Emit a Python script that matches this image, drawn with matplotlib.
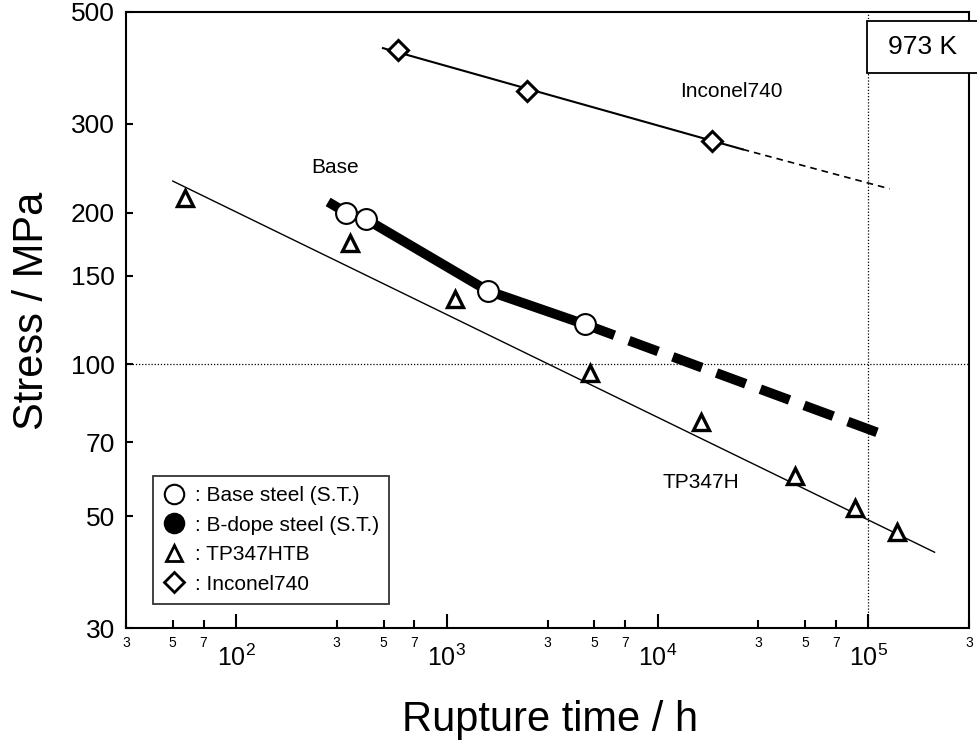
import matplotlib
matplotlib.use("Agg")
import matplotlib.pyplot as plt
from matplotlib.ticker import FixedLocator, FixedFormatter, NullLocator
from matplotlib.lines import Line2D
from matplotlib.patches import Rectangle

plt.rcParams['font.family'] = ['Liberation Sans', 'DejaVu Sans']
plt.rcParams['mathtext.fontset'] = 'custom'
plt.rcParams['mathtext.rm'] = 'Liberation Sans'
plt.rcParams['mathtext.it'] = 'Liberation Sans:italic'
plt.rcParams['mathtext.bf'] = 'Liberation Sans:bold'

# Base steel (S.T.)
base_t = [333, 414, 1560, 4530]
base_s = [200, 194, 140, 120]
base_line_t = [273, 333, 414, 1560, 4530]
base_line_s = [210, 200, 194, 140, 120]
base_ext_t = [4530, 110000]
base_ext_s = [120, 73.3]

# TP347HTB
tp_t = [57, 348, 1090, 4790, 16000, 45000, 86500, 137000]
tp_s = [214, 174, 135, 96, 77, 60, 52, 46.5]
tp_line_t = [50, 206000]
tp_line_s = [231, 42.4]

# Inconel740
inc_t = [586, 2410, 18100]
inc_s = [420, 348, 278]
inc_line_t = [497, 25300]
inc_line_s = [424, 267]
inc_ext_t = [25300, 126000]
inc_ext_s = [267, 223]

y_ticks = [30, 50, 70, 100, 150, 200, 300, 500]
x_major = [1e2, 1e3, 1e4, 1e5]
x_major_labels = ['$10^{2}$', '$10^{3}$', '$10^{4}$', '$10^{5}$']
x_minor = [30, 50, 70, 300, 500, 700, 3000, 5000, 7000, 30000, 50000, 70000, 300000]
x_minor_labels = ['3', '5', '7'] * 4 + ['3']

fig = plt.figure(figsize=(9.77, 7.49), dpi=100)
ax = fig.add_axes([126 / 977, 1 - 628 / 749, 843 / 977, 616 / 749])
ax.set_xscale('log')
ax.set_yscale('log')
ax.set_xlim(30, 300000)
ax.set_ylim(30, 500)

# reference dotted lines
ax.axhline(100, color='black', lw=0.9, ls=(0, (1, 1.5)), zorder=1)
ax.axvline(1e5, color='black', lw=0.9, ls=(0, (1, 1.5)), zorder=1)

# TP347H
ax.plot(tp_line_t, tp_line_s, color='black', lw=1.0, zorder=2)
ax.plot(tp_t, tp_s, ls='none', marker='^', ms=12, mfc='white', mec='black', mew=2.4, zorder=4)

# Base steel
ax.plot(base_line_t, base_line_s, color='black', lw=7, solid_capstyle='butt', zorder=3)
ax.plot(base_ext_t, base_ext_s, color='black', lw=7, ls=(0, (3.2, 1.6)), dash_capstyle='butt', zorder=3)
ax.plot(base_t, base_s, ls='none', marker='o', ms=15, mfc='white', mec='black', mew=1.5, zorder=5)

# Inconel740
ax.plot(inc_line_t, inc_line_s, color='black', lw=1.5, zorder=2)
ax.plot(inc_ext_t, inc_ext_s, color='black', lw=1.2, ls=(0, (4, 3)), zorder=2)
ax.plot(inc_t, inc_s, ls='none', marker='D', ms=10.5, mfc='white', mec='black', mew=2.2, zorder=4)

# annotations
ax.text(295, 246, 'Base', fontsize=15, ha='center', va='center')
ax.text(22400, 347, 'Inconel740', fontsize=15, ha='center', va='center')
ax.text(15960, 58.2, 'TP347H', fontsize=15, ha='center', va='center')
fig.patches.append(Rectangle((867 / 977, 1 - 73 / 749), 0.2, 52 / 749,
                             transform=fig.transFigure, fc='white', ec='black',
                             lw=1.3, zorder=10))
fig.text(922 / 977, 1 - 47 / 749, '973 K', fontsize=19, ha='center', va='center', zorder=11)

# ticks
ax.yaxis.set_major_locator(FixedLocator(y_ticks))
ax.yaxis.set_major_formatter(FixedFormatter([str(v) for v in y_ticks]))
ax.yaxis.set_minor_locator(NullLocator())
ax.xaxis.set_major_locator(FixedLocator(x_major))
ax.xaxis.set_major_formatter(FixedFormatter(x_major_labels))
ax.xaxis.set_minor_locator(FixedLocator(x_minor))
ax.xaxis.set_minor_formatter(FixedFormatter(x_minor_labels))

ax.tick_params(axis='y', which='major', direction='in', length=5, width=1.5, labelsize=19, pad=8)
ax.tick_params(axis='x', which='major', direction='in', length=10, width=1.5, labelsize=18, pad=12)
ax.tick_params(axis='x', which='minor', direction='in', length=6, width=1.5, labelsize=10, pad=6)
for s in ax.spines.values():
    s.set_linewidth(1.5)

ax.set_ylabel('Stress / MPa', fontsize=30)
ax.yaxis.set_label_coords(-0.088, 0.515)
ax.set_xlabel('Rupture time / h', fontsize=30)
ax.xaxis.set_label_coords(0.503, -0.117)

# legend
handles = [
    Line2D([], [], ls='none', marker='o', ms=14, mfc='white', mec='black', mew=1.5),
    Line2D([], [], ls='none', marker='o', ms=14, mfc='black', mec='black', mew=1.5),
    Line2D([], [], ls='none', marker='^', ms=12, mfc='white', mec='black', mew=2.0),
    Line2D([], [], ls='none', marker='D', ms=10, mfc='white', mec='black', mew=2.0),
]
labels = [': Base steel (S.T.)', ': B-dope steel (S.T.)', ': TP347HTB', ': Inconel740']
leg = ax.legend(handles, labels, loc='lower left',
                bbox_to_anchor=((153 - 126) / 843, (628 - 604) / 616),
                fontsize=15, frameon=True, fancybox=False, edgecolor='black',
                handlelength=1.0, handletextpad=0.5, borderpad=0.5, labelspacing=0.5,
                borderaxespad=0)
leg.get_frame().set_linewidth(1.3)

fig.savefig('out.png', dpi=100)
